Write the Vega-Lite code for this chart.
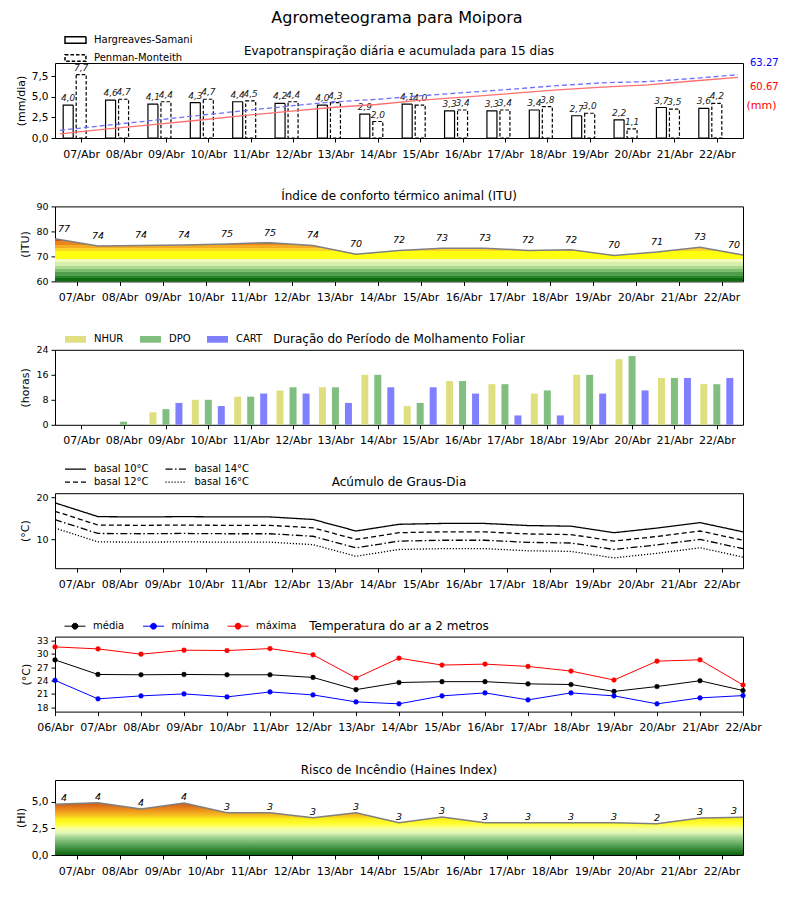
{
  "$schema": "https://vega.github.io/schema/vega-lite/v6.json",
  "padding": {"left": 14, "top": 9, "right": 5, "bottom": 5},
  "title": {"text": "Agrometeograma para Moipora", "fontSize": 16, "anchor": "middle", "frame": "bounds", "offset": 2.5},
  "config": {
    "font": "DejaVu Sans",
    "locale": {"number": {"decimal": ",", "thousands": ".", "grouping": [3], "currency": ["R$", ""]}},
    "view": {"stroke": "black", "strokeWidth": 1},
    "axis": {"grid": false, "domain": false, "tickColor": "black", "tickSize": 4, "labelColor": "black", "labelFontSize": 10, "labelOverlap": false, "labelSeparation": 0, "titleFontSize": 11, "titleFontWeight": "normal", "titleColor": "black", "labelPadding": 3, "titlePadding": 5},
    "axisY": {"labelOverlap": false, "tickCount": 10},
    "axisX": {"labelPadding": 6, "labelFontSize": 11, "labelOverlap": false, "labelFlush": false, "labelBound": false, "tickCount": 20},
    "title": {"fontSize": 12, "fontWeight": "normal", "color": "black", "frame": "group", "anchor": "middle"},
    "legend": {"labelFontSize": 10, "labelColor": "black", "padding": 0, "labelOffset": 7}
  },
  "datasets": {
    "et": [
      {"t": 0.5, "metodo": "Hargreaves-Samani", "et": 4.0}, {"t": 1.5, "metodo": "Hargreaves-Samani", "et": 4.6},
      {"t": 2.5, "metodo": "Hargreaves-Samani", "et": 4.1}, {"t": 3.5, "metodo": "Hargreaves-Samani", "et": 4.3},
      {"t": 4.5, "metodo": "Hargreaves-Samani", "et": 4.4}, {"t": 5.5, "metodo": "Hargreaves-Samani", "et": 4.2},
      {"t": 6.5, "metodo": "Hargreaves-Samani", "et": 4.0}, {"t": 7.5, "metodo": "Hargreaves-Samani", "et": 2.9},
      {"t": 8.5, "metodo": "Hargreaves-Samani", "et": 4.1}, {"t": 9.5, "metodo": "Hargreaves-Samani", "et": 3.3},
      {"t": 10.5, "metodo": "Hargreaves-Samani", "et": 3.3}, {"t": 11.5, "metodo": "Hargreaves-Samani", "et": 3.4},
      {"t": 12.5, "metodo": "Hargreaves-Samani", "et": 2.7}, {"t": 13.5, "metodo": "Hargreaves-Samani", "et": 2.2},
      {"t": 14.5, "metodo": "Hargreaves-Samani", "et": 3.7}, {"t": 15.5, "metodo": "Hargreaves-Samani", "et": 3.6},
      {"t": 0.5, "metodo": "Penman-Monteith", "et": 7.7}, {"t": 1.5, "metodo": "Penman-Monteith", "et": 4.7},
      {"t": 2.5, "metodo": "Penman-Monteith", "et": 4.4}, {"t": 3.5, "metodo": "Penman-Monteith", "et": 4.7},
      {"t": 4.5, "metodo": "Penman-Monteith", "et": 4.5}, {"t": 5.5, "metodo": "Penman-Monteith", "et": 4.4},
      {"t": 6.5, "metodo": "Penman-Monteith", "et": 4.3}, {"t": 7.5, "metodo": "Penman-Monteith", "et": 2.0},
      {"t": 8.5, "metodo": "Penman-Monteith", "et": 4.0}, {"t": 9.5, "metodo": "Penman-Monteith", "et": 3.4},
      {"t": 10.5, "metodo": "Penman-Monteith", "et": 3.4}, {"t": 11.5, "metodo": "Penman-Monteith", "et": 3.8},
      {"t": 12.5, "metodo": "Penman-Monteith", "et": 3.0}, {"t": 13.5, "metodo": "Penman-Monteith", "et": 1.1},
      {"t": 14.5, "metodo": "Penman-Monteith", "et": 3.5}, {"t": 15.5, "metodo": "Penman-Monteith", "et": 4.2}
    ],
    "acum": [
      {"t": 0, "metodo": "Hargreaves-Samani", "acum": 4.13}, {"t": 1.0667, "metodo": "Hargreaves-Samani", "acum": 8.88},
      {"t": 2.1333, "metodo": "Hargreaves-Samani", "acum": 13.1}, {"t": 3.2, "metodo": "Hargreaves-Samani", "acum": 17.5},
      {"t": 4.2667, "metodo": "Hargreaves-Samani", "acum": 22.1}, {"t": 5.3333, "metodo": "Hargreaves-Samani", "acum": 26.4},
      {"t": 6.4, "metodo": "Hargreaves-Samani", "acum": 30.5}, {"t": 7.4667, "metodo": "Hargreaves-Samani", "acum": 33.5},
      {"t": 8.5333, "metodo": "Hargreaves-Samani", "acum": 37.8}, {"t": 9.6, "metodo": "Hargreaves-Samani", "acum": 41.2},
      {"t": 10.6667, "metodo": "Hargreaves-Samani", "acum": 44.6}, {"t": 11.7333, "metodo": "Hargreaves-Samani", "acum": 48.1},
      {"t": 12.8, "metodo": "Hargreaves-Samani", "acum": 50.9}, {"t": 13.8667, "metodo": "Hargreaves-Samani", "acum": 53.1},
      {"t": 14.9333, "metodo": "Hargreaves-Samani", "acum": 57.0}, {"t": 16, "metodo": "Hargreaves-Samani", "acum": 60.67},
      {"t": 0, "metodo": "Penman-Monteith", "acum": 7.7}, {"t": 1.0667, "metodo": "Penman-Monteith", "acum": 12.6},
      {"t": 2.1333, "metodo": "Penman-Monteith", "acum": 17.3}, {"t": 3.2, "metodo": "Penman-Monteith", "acum": 22.2},
      {"t": 4.2667, "metodo": "Penman-Monteith", "acum": 27.0}, {"t": 5.3333, "metodo": "Penman-Monteith", "acum": 31.6},
      {"t": 6.4, "metodo": "Penman-Monteith", "acum": 36.0}, {"t": 7.4667, "metodo": "Penman-Monteith", "acum": 38.6},
      {"t": 8.5333, "metodo": "Penman-Monteith", "acum": 42.3}, {"t": 9.6, "metodo": "Penman-Monteith", "acum": 45.6},
      {"t": 10.6667, "metodo": "Penman-Monteith", "acum": 48.8}, {"t": 11.7333, "metodo": "Penman-Monteith", "acum": 52.4},
      {"t": 12.8, "metodo": "Penman-Monteith", "acum": 55.2}, {"t": 13.8667, "metodo": "Penman-Monteith", "acum": 56.4},
      {"t": 14.9333, "metodo": "Penman-Monteith", "acum": 59.5}, {"t": 16, "metodo": "Penman-Monteith", "acum": 63.27}
    ],
    "totais": [
      {"metodo": "Penman-Monteith", "total": 63.27, "rotulo": "63.27"},
      {"metodo": "Hargreaves-Samani", "total": 60.67, "rotulo": "60.67"}
    ],
    "pontos": [
      {"t": 0, "itu": 77.05, "itu_lab": 77, "hi": 4.75, "hi_lab": 4},
      {"t": 1, "itu": 74.2, "itu_lab": 74, "hi": 4.9, "hi_lab": 4},
      {"t": 2, "itu": 74.4, "itu_lab": 74, "hi": 4.31, "hi_lab": 4},
      {"t": 3, "itu": 74.6, "itu_lab": 74, "hi": 4.87, "hi_lab": 4},
      {"t": 4, "itu": 75.0, "itu_lab": 75, "hi": 3.97, "hi_lab": 3},
      {"t": 5, "itu": 75.5, "itu_lab": 75, "hi": 3.97, "hi_lab": 3},
      {"t": 6, "itu": 74.4, "itu_lab": 74, "hi": 3.5, "hi_lab": 3},
      {"t": 7, "itu": 70.9, "itu_lab": 70, "hi": 3.97, "hi_lab": 3},
      {"t": 8, "itu": 72.4, "itu_lab": 72, "hi": 3.03, "hi_lab": 3},
      {"t": 9, "itu": 73.3, "itu_lab": 73, "hi": 3.56, "hi_lab": 3},
      {"t": 10, "itu": 73.3, "itu_lab": 73, "hi": 3.03, "hi_lab": 3},
      {"t": 11, "itu": 72.4, "itu_lab": 72, "hi": 3.03, "hi_lab": 3},
      {"t": 12, "itu": 72.7, "itu_lab": 72, "hi": 3.03, "hi_lab": 3},
      {"t": 13, "itu": 70.4, "itu_lab": 70, "hi": 3.03, "hi_lab": 3},
      {"t": 14, "itu": 71.8, "itu_lab": 71, "hi": 2.94, "hi_lab": 2},
      {"t": 15, "itu": 73.7, "itu_lab": 73, "hi": 3.47, "hi_lab": 3},
      {"t": 16, "itu": 70.6, "itu_lab": 70, "hi": 3.53, "hi_lab": 3}
    ],
    "molh": [
      {"t": 0.5, "indice": "NHUR", "horas": 0}, {"t": 1.5, "indice": "NHUR", "horas": 0}, {"t": 2.5, "indice": "NHUR", "horas": 4},
      {"t": 3.5, "indice": "NHUR", "horas": 8}, {"t": 4.5, "indice": "NHUR", "horas": 9}, {"t": 5.5, "indice": "NHUR", "horas": 11},
      {"t": 6.5, "indice": "NHUR", "horas": 12}, {"t": 7.5, "indice": "NHUR", "horas": 16}, {"t": 8.5, "indice": "NHUR", "horas": 6},
      {"t": 9.5, "indice": "NHUR", "horas": 14}, {"t": 10.5, "indice": "NHUR", "horas": 13}, {"t": 11.5, "indice": "NHUR", "horas": 10},
      {"t": 12.5, "indice": "NHUR", "horas": 16}, {"t": 13.5, "indice": "NHUR", "horas": 21}, {"t": 14.5, "indice": "NHUR", "horas": 15},
      {"t": 15.5, "indice": "NHUR", "horas": 13},
      {"t": 0.5, "indice": "DPO", "horas": 0}, {"t": 1.5, "indice": "DPO", "horas": 1}, {"t": 2.5, "indice": "DPO", "horas": 5},
      {"t": 3.5, "indice": "DPO", "horas": 8}, {"t": 4.5, "indice": "DPO", "horas": 9}, {"t": 5.5, "indice": "DPO", "horas": 12},
      {"t": 6.5, "indice": "DPO", "horas": 12}, {"t": 7.5, "indice": "DPO", "horas": 16}, {"t": 8.5, "indice": "DPO", "horas": 7},
      {"t": 9.5, "indice": "DPO", "horas": 14}, {"t": 10.5, "indice": "DPO", "horas": 13}, {"t": 11.5, "indice": "DPO", "horas": 11},
      {"t": 12.5, "indice": "DPO", "horas": 16}, {"t": 13.5, "indice": "DPO", "horas": 22}, {"t": 14.5, "indice": "DPO", "horas": 15},
      {"t": 15.5, "indice": "DPO", "horas": 13},
      {"t": 0.5, "indice": "CART", "horas": 0}, {"t": 1.5, "indice": "CART", "horas": 0}, {"t": 2.5, "indice": "CART", "horas": 7},
      {"t": 3.5, "indice": "CART", "horas": 6}, {"t": 4.5, "indice": "CART", "horas": 10}, {"t": 5.5, "indice": "CART", "horas": 10},
      {"t": 6.5, "indice": "CART", "horas": 7}, {"t": 7.5, "indice": "CART", "horas": 12}, {"t": 8.5, "indice": "CART", "horas": 12},
      {"t": 9.5, "indice": "CART", "horas": 10}, {"t": 10.5, "indice": "CART", "horas": 3}, {"t": 11.5, "indice": "CART", "horas": 3},
      {"t": 12.5, "indice": "CART", "horas": 10}, {"t": 13.5, "indice": "CART", "horas": 11}, {"t": 14.5, "indice": "CART", "horas": 15},
      {"t": 15.5, "indice": "CART", "horas": 15}
    ],
    "gd": [
      {"t": 0, "basal": "basal 10°C", "gd": 18.65}, {"t": 1, "basal": "basal 10°C", "gd": 15.37}, {"t": 2, "basal": "basal 10°C", "gd": 15.3},
      {"t": 3, "basal": "basal 10°C", "gd": 15.37}, {"t": 4, "basal": "basal 10°C", "gd": 15.3}, {"t": 5, "basal": "basal 10°C", "gd": 15.3},
      {"t": 6, "basal": "basal 10°C", "gd": 14.7}, {"t": 7, "basal": "basal 10°C", "gd": 11.95}, {"t": 8, "basal": "basal 10°C", "gd": 13.55},
      {"t": 9, "basal": "basal 10°C", "gd": 13.75}, {"t": 10, "basal": "basal 10°C", "gd": 13.75}, {"t": 11, "basal": "basal 10°C", "gd": 13.25},
      {"t": 12, "basal": "basal 10°C", "gd": 13.1}, {"t": 13, "basal": "basal 10°C", "gd": 11.55}, {"t": 14, "basal": "basal 10°C", "gd": 12.65},
      {"t": 15, "basal": "basal 10°C", "gd": 13.95}, {"t": 16, "basal": "basal 10°C", "gd": 11.75},
      {"t": 0, "basal": "basal 12°C", "gd": 16.65}, {"t": 1, "basal": "basal 12°C", "gd": 13.37}, {"t": 2, "basal": "basal 12°C", "gd": 13.3},
      {"t": 3, "basal": "basal 12°C", "gd": 13.37}, {"t": 4, "basal": "basal 12°C", "gd": 13.3}, {"t": 5, "basal": "basal 12°C", "gd": 13.3},
      {"t": 6, "basal": "basal 12°C", "gd": 12.7}, {"t": 7, "basal": "basal 12°C", "gd": 9.95}, {"t": 8, "basal": "basal 12°C", "gd": 11.55},
      {"t": 9, "basal": "basal 12°C", "gd": 11.75}, {"t": 10, "basal": "basal 12°C", "gd": 11.75}, {"t": 11, "basal": "basal 12°C", "gd": 11.25},
      {"t": 12, "basal": "basal 12°C", "gd": 11.1}, {"t": 13, "basal": "basal 12°C", "gd": 9.55}, {"t": 14, "basal": "basal 12°C", "gd": 10.65},
      {"t": 15, "basal": "basal 12°C", "gd": 11.95}, {"t": 16, "basal": "basal 12°C", "gd": 9.75},
      {"t": 0, "basal": "basal 14°C", "gd": 14.65}, {"t": 1, "basal": "basal 14°C", "gd": 11.37}, {"t": 2, "basal": "basal 14°C", "gd": 11.3},
      {"t": 3, "basal": "basal 14°C", "gd": 11.37}, {"t": 4, "basal": "basal 14°C", "gd": 11.3}, {"t": 5, "basal": "basal 14°C", "gd": 11.3},
      {"t": 6, "basal": "basal 14°C", "gd": 10.7}, {"t": 7, "basal": "basal 14°C", "gd": 7.95}, {"t": 8, "basal": "basal 14°C", "gd": 9.55},
      {"t": 9, "basal": "basal 14°C", "gd": 9.75}, {"t": 10, "basal": "basal 14°C", "gd": 9.75}, {"t": 11, "basal": "basal 14°C", "gd": 9.25},
      {"t": 12, "basal": "basal 14°C", "gd": 9.1}, {"t": 13, "basal": "basal 14°C", "gd": 7.55}, {"t": 14, "basal": "basal 14°C", "gd": 8.65},
      {"t": 15, "basal": "basal 14°C", "gd": 9.95}, {"t": 16, "basal": "basal 14°C", "gd": 7.75},
      {"t": 0, "basal": "basal 16°C", "gd": 12.65}, {"t": 1, "basal": "basal 16°C", "gd": 9.37}, {"t": 2, "basal": "basal 16°C", "gd": 9.3},
      {"t": 3, "basal": "basal 16°C", "gd": 9.37}, {"t": 4, "basal": "basal 16°C", "gd": 9.3}, {"t": 5, "basal": "basal 16°C", "gd": 9.3},
      {"t": 6, "basal": "basal 16°C", "gd": 8.7}, {"t": 7, "basal": "basal 16°C", "gd": 5.95}, {"t": 8, "basal": "basal 16°C", "gd": 7.55},
      {"t": 9, "basal": "basal 16°C", "gd": 7.75}, {"t": 10, "basal": "basal 16°C", "gd": 7.75}, {"t": 11, "basal": "basal 16°C", "gd": 7.25},
      {"t": 12, "basal": "basal 16°C", "gd": 7.1}, {"t": 13, "basal": "basal 16°C", "gd": 5.55}, {"t": 14, "basal": "basal 16°C", "gd": 6.65},
      {"t": 15, "basal": "basal 16°C", "gd": 7.95}, {"t": 16, "basal": "basal 16°C", "gd": 5.75}
    ],
    "temp": [
      {"t": 0, "serie": "média", "temp": 28.65}, {"t": 1, "serie": "média", "temp": 25.37}, {"t": 2, "serie": "média", "temp": 25.3},
      {"t": 3, "serie": "média", "temp": 25.37}, {"t": 4, "serie": "média", "temp": 25.3}, {"t": 5, "serie": "média", "temp": 25.3},
      {"t": 6, "serie": "média", "temp": 24.7}, {"t": 7, "serie": "média", "temp": 21.95}, {"t": 8, "serie": "média", "temp": 23.55},
      {"t": 9, "serie": "média", "temp": 23.75}, {"t": 10, "serie": "média", "temp": 23.75}, {"t": 11, "serie": "média", "temp": 23.25},
      {"t": 12, "serie": "média", "temp": 23.1}, {"t": 13, "serie": "média", "temp": 21.55}, {"t": 14, "serie": "média", "temp": 22.65},
      {"t": 15, "serie": "média", "temp": 23.95}, {"t": 16, "serie": "média", "temp": 21.75},
      {"t": 0, "serie": "mínima", "temp": 24.04}, {"t": 1, "serie": "mínima", "temp": 19.87}, {"t": 2, "serie": "mínima", "temp": 20.54},
      {"t": 3, "serie": "mínima", "temp": 20.99}, {"t": 4, "serie": "mínima", "temp": 20.31}, {"t": 5, "serie": "mínima", "temp": 21.43},
      {"t": 6, "serie": "mínima", "temp": 20.76}, {"t": 7, "serie": "mínima", "temp": 19.19}, {"t": 8, "serie": "mínima", "temp": 18.75},
      {"t": 9, "serie": "mínima", "temp": 20.54}, {"t": 10, "serie": "mínima", "temp": 21.21}, {"t": 11, "serie": "mínima", "temp": 19.64},
      {"t": 12, "serie": "mínima", "temp": 21.21}, {"t": 13, "serie": "mínima", "temp": 20.54}, {"t": 14, "serie": "mínima", "temp": 18.75},
      {"t": 15, "serie": "mínima", "temp": 20.09}, {"t": 16, "serie": "mínima", "temp": 20.61},
      {"t": 0, "serie": "máxima", "temp": 31.58}, {"t": 1, "serie": "máxima", "temp": 31.13}, {"t": 2, "serie": "máxima", "temp": 29.94},
      {"t": 3, "serie": "máxima", "temp": 30.84}, {"t": 4, "serie": "máxima", "temp": 30.76}, {"t": 5, "serie": "máxima", "temp": 31.2},
      {"t": 6, "serie": "máxima", "temp": 29.8}, {"t": 7, "serie": "máxima", "temp": 24.57}, {"t": 8, "serie": "máxima", "temp": 29.04},
      {"t": 9, "serie": "máxima", "temp": 27.48}, {"t": 10, "serie": "máxima", "temp": 27.7}, {"t": 11, "serie": "máxima", "temp": 27.18},
      {"t": 12, "serie": "máxima", "temp": 26.13}, {"t": 13, "serie": "máxima", "temp": 24.12}, {"t": 14, "serie": "máxima", "temp": 28.37},
      {"t": 15, "serie": "máxima", "temp": 28.67}, {"t": 16, "serie": "máxima", "temp": 23.0}
    ]
  },
  "bounds": "flush",
  "spacing": 68.4,
  "resolve": {"scale": {"x": "independent", "y": "independent", "color": "independent", "strokeDash": "independent", "fill": "independent", "stroke": "independent"}},
  "vconcat": [
    {
      "width": 688, "height": 75,
      "title": {"text": "Evapotranspiração diária e acumulada para 15 dias", "offset": -29},
      "layer": [
        {
          "data": {"name": "et"},
          "layer": [
            {
              "transform": [{"filter": "datum.metodo == 'Hargreaves-Samani'"}],
              "mark": {"type": "bar", "width": 10, "xOffset": -13, "fill": "white", "stroke": "black", "strokeWidth": 1.2},
              "encoding": {
                "x": {"field": "t", "type": "quantitative", "scale": {"domain": [0, 16], "nice": false, "zero": false},
                      "axis": {"title": null, "tickCount": 20, "values": [0.5,1.5,2.5,3.5,4.5,5.5,6.5,7.5,8.5,9.5,10.5,11.5,12.5,13.5,14.5,15.5],
                               "labelExpr": "['07/Abr','08/Abr','09/Abr','10/Abr','11/Abr','12/Abr','13/Abr','14/Abr','15/Abr','16/Abr','17/Abr','18/Abr','19/Abr','20/Abr','21/Abr','22/Abr'][floor(datum.value)]"}},
                "y": {"field": "et", "type": "quantitative", "scale": {"domain": [0, 9.1], "nice": false},
                      "axis": {"orient": "left", "title": "(mm/dia)", "values": [0, 2.5, 5, 7.5], "tickCount": 10, "format": ".1f", "labelOverlap": false, "labelFontSize": 10.5}},
                "strokeDash": {"field": "metodo", "type": "nominal",
                               "scale": {"domain": ["Hargreaves-Samani", "Penman-Monteith"], "range": [[1, 0], [3.5, 2]]},
                               "legend": {"title": null, "orient": "none", "legendX": 9, "legendY": -34.5, "direction": "vertical",
                                          "symbolType": "M-1,-0.32H1V0.32H-1Z", "symbolSize": 441, "rowPadding": -6,
                                          "encode": {"symbols": {"update": {"fill": {"value": "white"}, "stroke": {"value": "black"}, "strokeWidth": {"value": 1}, "opacity": {"value": 1}}}}}}
              }
            },
            {
              "transform": [{"filter": "datum.metodo == 'Penman-Monteith'"}],
              "mark": {"type": "bar", "width": 10, "xOffset": 0, "fill": "white", "stroke": "black", "strokeWidth": 1.2},
              "encoding": {
                "x": {"field": "t", "type": "quantitative", "scale": {"domain": [0, 16], "nice": false, "zero": false}},
                "y": {"field": "et", "type": "quantitative", "scale": {"domain": [0, 9.1], "nice": false}},
                "strokeDash": {"field": "metodo", "type": "nominal",
                               "scale": {"domain": ["Hargreaves-Samani", "Penman-Monteith"], "range": [[1, 0], [3.5, 2]]}}
              }
            },
            {
              "transform": [{"filter": "datum.metodo == 'Hargreaves-Samani'"}],
              "mark": {"type": "text", "xOffset": -13, "dy": -2, "baseline": "bottom", "fontSize": 9, "fontStyle": "italic", "color": "#222222"},
              "encoding": {
                "x": {"field": "t", "type": "quantitative"},
                "y": {"field": "et", "type": "quantitative"},
                "text": {"field": "et", "type": "quantitative", "format": ".1f"}
              }
            },
            {
              "transform": [{"filter": "datum.metodo == 'Penman-Monteith'"}],
              "mark": {"type": "text", "xOffset": 0, "dy": -2, "baseline": "bottom", "fontSize": 9, "fontStyle": "italic", "color": "#222222"},
              "encoding": {
                "x": {"field": "t", "type": "quantitative"},
                "y": {"field": "et", "type": "quantitative"},
                "text": {"field": "et", "type": "quantitative", "format": ".1f"}
              }
            }
          ]
        },
        {
          "layer": [
            {
              "data": {"name": "acum"},
              "transform": [{"filter": "datum.metodo == 'Hargreaves-Samani'"}],
              "mark": {"type": "line", "color": "#ff7070", "strokeWidth": 1.3},
              "encoding": {
                "x": {"field": "t", "type": "quantitative", "scale": {"domain": [0, 16], "nice": false, "zero": false}},
                "y": {"field": "acum", "type": "quantitative", "scale": {"domain": [0, 75], "nice": false},
                      "axis": {"orient": "right", "labels": false, "ticks": false, "domain": false, "title": "(mm)", "titleAngle": 0,
                               "titleColor": "red", "titleAlign": "left", "titleBaseline": "middle", "titleX": 3, "titleY": 42}}
              }
            },
            {
              "data": {"name": "acum"},
              "transform": [{"filter": "datum.metodo == 'Penman-Monteith'"}],
              "mark": {"type": "line", "color": "#7070ff", "strokeWidth": 1.3, "strokeDash": [5, 3]},
              "encoding": {
                "x": {"field": "t", "type": "quantitative"},
                "y": {"field": "acum", "type": "quantitative", "scale": {"domain": [0, 75], "nice": false}}
              }
            },
            {
              "data": {"name": "totais"},
              "transform": [{"filter": "datum.metodo == 'Penman-Monteith'"}],
              "mark": {"type": "text", "align": "left", "baseline": "middle", "dx": 12, "dy": -12, "fontSize": 10, "color": "blue"},
              "encoding": {
                "x": {"datum": 16, "type": "quantitative"},
                "y": {"field": "total", "type": "quantitative", "scale": {"domain": [0, 75], "nice": false}},
                "text": {"field": "rotulo", "type": "nominal"}
              }
            },
            {
              "data": {"name": "totais"},
              "transform": [{"filter": "datum.metodo == 'Hargreaves-Samani'"}],
              "mark": {"type": "text", "align": "left", "baseline": "middle", "dx": 12, "dy": 9.5, "fontSize": 10, "color": "red"},
              "encoding": {
                "x": {"datum": 16, "type": "quantitative"},
                "y": {"field": "total", "type": "quantitative", "scale": {"domain": [0, 75], "nice": false}},
                "text": {"field": "rotulo", "type": "nominal"}
              }
            }
          ]
        }
      ],
      "resolve": {"scale": {"y": "independent"}}
    },
    {
      "width": 688, "height": 75,
      "title": {"text": "Índice de conforto térmico animal (ITU)", "offset": -1.9},
      "data": {"name": "pontos"},
      "layer": [
        {
          "mark": {"type": "area", "color": {"gradient": "linear", "x1": 0, "y1": 1, "x2": 0, "y2": 0, "stops": [
            {"offset": 0, "color": "#0f6b0f"}, {"offset": 0.07, "color": "#0f6b0f"},
            {"offset": 0.071, "color": "#2a842a"}, {"offset": 0.135, "color": "#2a842a"},
            {"offset": 0.136, "color": "#4f9f4f"}, {"offset": 0.211, "color": "#4f9f4f"},
            {"offset": 0.212, "color": "#7dbd6e"}, {"offset": 0.293, "color": "#7dbd6e"},
            {"offset": 0.294, "color": "#acd990"}, {"offset": 0.37, "color": "#acd990"},
            {"offset": 0.371, "color": "#d5efab"}, {"offset": 0.446, "color": "#d5efab"},
            {"offset": 0.447, "color": "#f0fbbb"}, {"offset": 0.528, "color": "#f0fbbb"},
            {"offset": 0.529, "color": "#ffff10"}, {"offset": 0.704, "color": "#ffff10"},
            {"offset": 0.705, "color": "#fdd52a"}, {"offset": 0.786, "color": "#fdd52a"},
            {"offset": 0.787, "color": "#f5ac22"}, {"offset": 0.862, "color": "#f5ac22"},
            {"offset": 0.863, "color": "#e9851a"}, {"offset": 0.938, "color": "#e9851a"},
            {"offset": 0.939, "color": "#d84f12"}, {"offset": 1, "color": "#d84f12"}]}},
          "encoding": {
            "x": {"field": "t", "type": "quantitative", "scale": {"domain": [0, 16], "nice": false, "zero": false},
                  "axis": {"title": null, "tickCount": 20, "values": [0.5,1.5,2.5,3.5,4.5,5.5,6.5,7.5,8.5,9.5,10.5,11.5,12.5,13.5,14.5,15.5],
                           "labelExpr": "['07/Abr','08/Abr','09/Abr','10/Abr','11/Abr','12/Abr','13/Abr','14/Abr','15/Abr','16/Abr','17/Abr','18/Abr','19/Abr','20/Abr','21/Abr','22/Abr'][floor(datum.value)]"}},
            "y": {"field": "itu", "type": "quantitative", "scale": {"domain": [60, 90], "nice": false, "zero": false},
                  "axis": {"title": "(ITU)", "values": [60, 70, 80, 90], "tickCount": 10, "labelOverlap": false, "labelFontSize": 9.5}},
            "y2": {"datum": 60}
          }
        },
        {
          "mark": {"type": "line", "color": "#808080", "strokeWidth": 1.5},
          "encoding": {"x": {"field": "t", "type": "quantitative"}, "y": {"field": "itu", "type": "quantitative"}}
        },
        {
          "transform": [{"filter": "datum.t == 0"}],
          "mark": {"type": "text", "fontStyle": "italic", "fontSize": 9.5, "dx": 9, "dy": -10, "baseline": "middle", "color": "black"},
          "encoding": {"x": {"field": "t", "type": "quantitative"}, "y": {"field": "itu", "type": "quantitative"}, "text": {"field": "itu_lab", "type": "quantitative", "format": "d"}}
        },
        {
          "transform": [{"filter": "datum.t == 16"}],
          "mark": {"type": "text", "fontStyle": "italic", "fontSize": 9.5, "dx": -9, "dy": -10, "baseline": "middle", "color": "black"},
          "encoding": {"x": {"field": "t", "type": "quantitative"}, "y": {"field": "itu", "type": "quantitative"}, "text": {"field": "itu_lab", "type": "quantitative", "format": "d"}}
        },
        {
          "transform": [{"filter": "datum.t > 0 && datum.t < 16"}],
          "mark": {"type": "text", "fontStyle": "italic", "fontSize": 9.5, "dy": -10, "baseline": "middle", "color": "black"},
          "encoding": {"x": {"field": "t", "type": "quantitative"}, "y": {"field": "itu", "type": "quantitative"}, "text": {"field": "itu_lab", "type": "quantitative", "format": "d"}}
        }
      ]
    },
    {
      "width": 688, "height": 75,
      "title": {"text": "Duração do Período de Molhamento Foliar", "offset": -18.7},
      "data": {"name": "molh"},
      "layer": [
        {
          "transform": [{"filter": "datum.indice == 'NHUR'"}],
          "mark": {"type": "bar", "width": 7, "xOffset": -13},
          "encoding": {
            "x": {"field": "t", "type": "quantitative", "scale": {"domain": [0, 16], "nice": false, "zero": false},
                  "axis": {"title": null, "tickCount": 20, "values": [0.5,1.5,2.5,3.5,4.5,5.5,6.5,7.5,8.5,9.5,10.5,11.5,12.5,13.5,14.5,15.5],
                           "labelExpr": "['07/Abr','08/Abr','09/Abr','10/Abr','11/Abr','12/Abr','13/Abr','14/Abr','15/Abr','16/Abr','17/Abr','18/Abr','19/Abr','20/Abr','21/Abr','22/Abr'][floor(datum.value)]"}},
            "y": {"field": "horas", "type": "quantitative", "scale": {"domain": [0, 24], "nice": false},
                  "axis": {"title": "(horas)", "values": [0, 8, 16, 24], "tickCount": 10, "labelOverlap": false, "labelFontSize": 9.5}},
            "color": {"field": "indice", "type": "nominal",
                      "scale": {"domain": ["NHUR", "DPO", "CART"], "range": ["#dfdf80", "#80bf80", "#8080ff"]},
                      "legend": {"title": null, "orient": "none", "legendX": 9, "legendY": -22.2, "direction": "horizontal",
                                 "symbolType": "M-1,-0.32H1V0.32H-1Z", "symbolSize": 441, "columnPadding": 15}}
          }
        },
        {
          "transform": [{"filter": "datum.indice == 'DPO'"}],
          "mark": {"type": "bar", "width": 7, "xOffset": 0},
          "encoding": {
            "x": {"field": "t", "type": "quantitative"},
            "y": {"field": "horas", "type": "quantitative"},
            "color": {"field": "indice", "type": "nominal", "scale": {"domain": ["NHUR", "DPO", "CART"], "range": ["#dfdf80", "#80bf80", "#8080ff"]}}
          }
        },
        {
          "transform": [{"filter": "datum.indice == 'CART'"}],
          "mark": {"type": "bar", "width": 7, "xOffset": 13},
          "encoding": {
            "x": {"field": "t", "type": "quantitative"},
            "y": {"field": "horas", "type": "quantitative"},
            "color": {"field": "indice", "type": "nominal", "scale": {"domain": ["NHUR", "DPO", "CART"], "range": ["#dfdf80", "#80bf80", "#8080ff"]}}
          }
        }
      ]
    },
    {
      "width": 688, "height": 75,
      "title": {"text": "Acúmulo de Graus-Dia", "offset": -25.5},
      "data": {"name": "gd"},
      "mark": {"type": "line", "color": "black", "strokeWidth": 1.3},
      "encoding": {
        "x": {"field": "t", "type": "quantitative", "scale": {"domain": [0, 16], "nice": false, "zero": false},
              "axis": {"title": null, "tickCount": 20, "values": [0.5,1.5,2.5,3.5,4.5,5.5,6.5,7.5,8.5,9.5,10.5,11.5,12.5,13.5,14.5,15.5],
                       "labelExpr": "['07/Abr','08/Abr','09/Abr','10/Abr','11/Abr','12/Abr','13/Abr','14/Abr','15/Abr','16/Abr','17/Abr','18/Abr','19/Abr','20/Abr','21/Abr','22/Abr'][floor(datum.value)]"}},
        "y": {"field": "gd", "type": "quantitative", "scale": {"domain": [3.1, 20.95], "nice": false, "zero": false},
              "axis": {"title": "(°C)", "values": [10, 20], "tickCount": 10, "labelOverlap": false, "labelFontSize": 9.5}},
        "strokeDash": {"field": "basal", "type": "nominal",
                       "scale": {"domain": ["basal 10°C", "basal 12°C", "basal 14°C", "basal 16°C"], "range": [[1, 0], [5, 3], [7, 2.5, 1.5, 2.5], [1.2, 1.8]]},
                       "legend": {"title": null, "orient": "none", "legendX": 14.5, "legendY": -30, "columns": 2, "symbolType": "M-2.1,0H2.1",
                                  "symbolSize": 100, "labelOffset": 12.5, "symbolStrokeColor": "black", "symbolStrokeWidth": 1.3, "columnPadding": 13.5, "rowPadding": 2}}
      }
    },
    {
      "width": 688, "height": 75,
      "title": {"text": "Temperatura do ar a 2 metros", "offset": -17.9},
      "data": {"name": "temp"},
      "layer": [
        {
          "mark": {"type": "line", "strokeWidth": 1},
          "encoding": {
            "x": {"field": "t", "type": "quantitative", "scale": {"domain": [0, 16], "nice": false, "zero": false},
                  "axis": {"title": null, "tickCount": 20, "values": [0,1,2,3,4,5,6,7,8,9,10,11,12,13,14,15,16],
                           "labelExpr": "['06/Abr','07/Abr','08/Abr','09/Abr','10/Abr','11/Abr','12/Abr','13/Abr','14/Abr','15/Abr','16/Abr','17/Abr','18/Abr','19/Abr','20/Abr','21/Abr','22/Abr'][round(datum.value)]"}},
            "y": {"field": "temp", "type": "quantitative", "scale": {"domain": [17.0, 33.9], "nice": false, "zero": false},
                  "axis": {"title": "(°C)", "values": [18, 21, 24, 27, 30, 33], "tickCount": 10, "labelOverlap": false, "labelFontSize": 9}},
            "stroke": {"field": "serie", "type": "nominal", "scale": {"domain": ["média", "mínima", "máxima"], "range": ["black", "blue", "red"]},
                       "legend": {"title": null, "orient": "none", "legendX": 9, "legendY": -21.4, "direction": "horizontal",
                                  "symbolType": "M-1,0H1M0.28,0A0.28,0.28,0,1,1,-0.28,0A0.28,0.28,0,1,1,0.28,0",
                                  "symbolSize": 441, "symbolStrokeWidth": 1, "columnPadding": 15.5}}
          }
        },
        {
          "mark": {"type": "circle", "size": 22, "opacity": 1, "strokeWidth": 0.5},
          "encoding": {
            "x": {"field": "t", "type": "quantitative"},
            "y": {"field": "temp", "type": "quantitative"},
            "fill": {"field": "serie", "type": "nominal", "scale": {"domain": ["média", "mínima", "máxima"], "range": ["black", "blue", "red"]},
                     "legend": {"title": null, "orient": "none", "legendX": 9, "legendY": -21.4, "direction": "horizontal",
                                "symbolType": "M-1,0H1M0.28,0A0.28,0.28,0,1,1,-0.28,0A0.28,0.28,0,1,1,0.28,0",
                                "symbolSize": 441, "symbolStrokeWidth": 1, "columnPadding": 15.5}},
            "stroke": {"field": "serie", "type": "nominal", "scale": {"domain": ["média", "mínima", "máxima"], "range": ["black", "blue", "red"]}}
          }
        }
      ]
    },
    {
      "width": 688, "height": 75,
      "title": {"text": "Risco de Incêndio (Haines Index)", "offset": 3.5},
      "data": {"name": "pontos"},
      "layer": [
        {
          "mark": {"type": "area", "color": {"gradient": "linear", "x1": 0, "y1": 1, "x2": 0, "y2": 0, "stops": [
            {"offset": 0, "color": "#0b640b"}, {"offset": 0.08, "color": "#2a7f2a"}, {"offset": 0.2, "color": "#5ca85c"},
            {"offset": 0.33, "color": "#9fd08f"}, {"offset": 0.43, "color": "#e4f9b8"}, {"offset": 0.51, "color": "#f6ff9e"},
            {"offset": 0.59, "color": "#ffff30"}, {"offset": 0.69, "color": "#fbf01a"}, {"offset": 0.755, "color": "#f7c020"},
            {"offset": 0.84, "color": "#ee9a1c"}, {"offset": 0.92, "color": "#e0761a"}, {"offset": 1, "color": "#cf5a14"}]}},
          "encoding": {
            "x": {"field": "t", "type": "quantitative", "scale": {"domain": [0, 16], "nice": false, "zero": false},
                  "axis": {"title": null, "tickCount": 20, "values": [0.5,1.5,2.5,3.5,4.5,5.5,6.5,7.5,8.5,9.5,10.5,11.5,12.5,13.5,14.5,15.5],
                           "labelExpr": "['07/Abr','08/Abr','09/Abr','10/Abr','11/Abr','12/Abr','13/Abr','14/Abr','15/Abr','16/Abr','17/Abr','18/Abr','19/Abr','20/Abr','21/Abr','22/Abr'][floor(datum.value)]"}},
            "y": {"field": "hi", "type": "quantitative", "scale": {"domain": [0, 7.03], "nice": false},
                  "axis": {"title": "(HI)", "values": [0, 2.5, 5], "tickCount": 10, "format": ".1f", "labelOverlap": false, "labelFontSize": 10.5}}
          }
        },
        {
          "mark": {"type": "line", "color": "#808080", "strokeWidth": 1.5},
          "encoding": {"x": {"field": "t", "type": "quantitative"}, "y": {"field": "hi", "type": "quantitative"}}
        },
        {
          "transform": [{"filter": "datum.t == 0"}],
          "mark": {"type": "text", "fontStyle": "italic", "fontSize": 9.5, "dx": 9, "dy": -6, "baseline": "middle", "color": "black"},
          "encoding": {"x": {"field": "t", "type": "quantitative"}, "y": {"field": "hi", "type": "quantitative"}, "text": {"field": "hi_lab", "type": "quantitative", "format": "d"}}
        },
        {
          "transform": [{"filter": "datum.t == 16"}],
          "mark": {"type": "text", "fontStyle": "italic", "fontSize": 9.5, "dx": -9, "dy": -6, "baseline": "middle", "color": "black"},
          "encoding": {"x": {"field": "t", "type": "quantitative"}, "y": {"field": "hi", "type": "quantitative"}, "text": {"field": "hi_lab", "type": "quantitative", "format": "d"}}
        },
        {
          "transform": [{"filter": "datum.t > 0 && datum.t < 16"}],
          "mark": {"type": "text", "fontStyle": "italic", "fontSize": 9.5, "dy": -6, "baseline": "middle", "color": "black"},
          "encoding": {"x": {"field": "t", "type": "quantitative"}, "y": {"field": "hi", "type": "quantitative"}, "text": {"field": "hi_lab", "type": "quantitative", "format": "d"}}
        }
      ]
    }
  ]
}
